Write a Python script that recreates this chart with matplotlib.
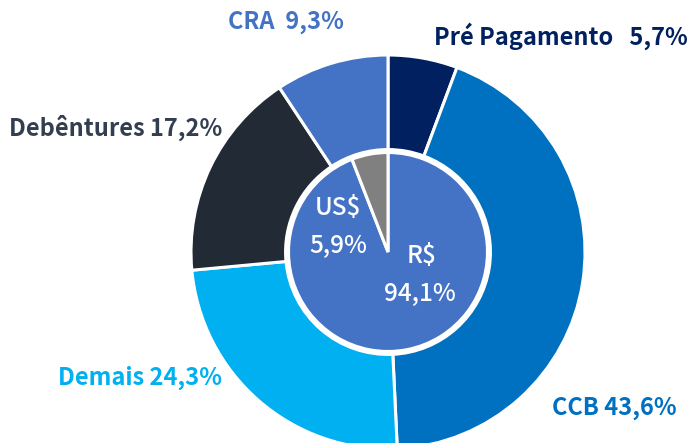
import matplotlib.pyplot as plt

# outer ring (clockwise from top)
outer_labels = ["Pré Pagamento", "CCB", "Demais", "Debêntures", "CRA"]
outer_values = [5.7, 43.6, 24.3, 17.2, 9.3]
outer_colors = ["#002060", "#0070C0", "#00B0F0", "#222A35", "#4472C4"]

# inner pie
inner_labels = ["R$", "US$"]
inner_values = [94.1, 5.9]
inner_colors = ["#4472C4", "#808080"]

plt.rcParams['font.family'] = ['Noto Sans CJK JP', 'DejaVu Sans']

fig = plt.figure(figsize=(6.9, 4.43), dpi=100)
ax = fig.add_axes([0, 0, 1, 1])

cx, cy = 388, 252
r_out = 197

# y-axis is inverted below, so angle -90 points up and ccw turns clockwise on screen
ax.pie(outer_values, colors=outer_colors, startangle=-90, counterclock=True,
       center=(cx, cy), radius=r_out,
       wedgeprops=dict(width=r_out * 0.48, edgecolor='white', linewidth=2.2))
ax.pie(inner_values, colors=inner_colors, startangle=-90, counterclock=True,
       center=(cx, cy), radius=r_out * 0.505,
       wedgeprops=dict(edgecolor='white', linewidth=2.2))
ax.set_xlim(0, 690)
ax.set_ylim(443, 0)
ax.set_aspect('equal')
ax.axis('off')

fs = 17
ax.text(228, 22, "CRA  9,3%", color="#4472C4", fontsize=fs, fontweight='bold', ha='left', va='center')
ax.text(688, 36, "Pré Pagamento   5,7%", color="#002060", fontsize=fs, fontweight='bold', ha='right', va='center')
ax.text(222, 128, "Debêntures 17,2%", color="#333F50", fontsize=fs, fontweight='bold', ha='right', va='center')
ax.text(222, 378, "Demais 24,3%", color="#00B0F0", fontsize=fs, fontweight='bold', ha='right', va='center')
ax.text(552, 408, "CCB 43,6%", color="#0070C0", fontsize=fs, fontweight='bold', ha='left', va='center')

# inner labels
ax.text(338, 208, "US$", color="white", fontsize=17.5, fontweight='medium', ha='center', va='center')
ax.text(338, 246, "5,9%", color="white", fontsize=17.5, fontweight='medium', ha='center', va='center')
ax.text(422, 256, "R$", color="white", fontsize=17.5, fontweight='medium', ha='center', va='center')
ax.text(420, 294, "94,1%", color="white", fontsize=17.5, fontweight='medium', ha='center', va='center')

fig.savefig("out.png", dpi=100)
